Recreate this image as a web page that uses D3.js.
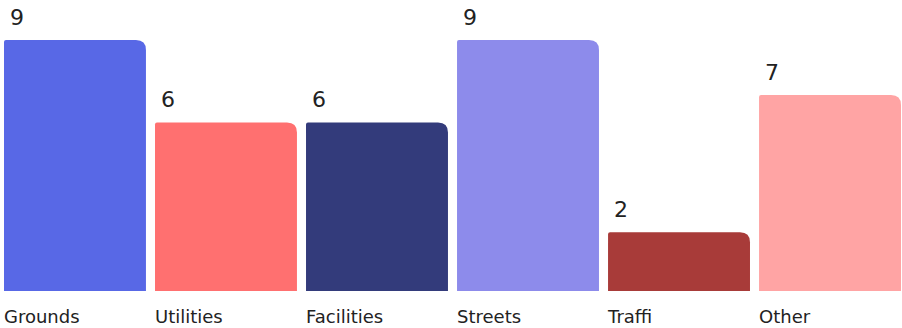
<!DOCTYPE html>
<html>
<head>
<meta charset="utf-8">
<script src="https://cdn.jsdelivr.net/npm/d3@7"></script>
<style>
  html, body { margin: 0; padding: 0; background: #fff; }
  svg { display: block; }
  text { font-family: "DejaVu Sans", sans-serif; fill: #222; }
</style>
</head>
<body>
<svg id="chart" width="902" height="328"></svg>
<script>
// Simple bar chart: one bar per category, value label above, category below.
var categories = ['Grounds', 'Utilities', 'Facilities', 'Streets', 'Traffi', 'Other'];
var values = [9, 6, 6, 9, 2, 7];
var colors = ['#5868E6', '#FF7070', '#333B7B', '#8D8BEB', '#A83B39', '#FFA4A4'];

(function () {
    var W = 902, H = 328;
    var svg = d3.select('#chart');
    var m = { left: 4, right: 1, top: 40, bottom: 37 };
    var baseY = H - m.bottom;

    var x = d3.scaleBand().domain(categories)
        .range([m.left, W - m.right]).paddingInner(0.06).paddingOuter(0);
    var y = d3.scaleLinear().domain([-0.14, 9]).range([baseY, m.top]);

    // bar path: small top-left radius, bigger top-right, square bottom
    function barPath(x0, y0, w, h) {
        var rl = 2, rr = 10;
        return 'M' + x0 + ',' + (y0 + h) +
            'V' + (y0 + rl) +
            'Q' + x0 + ',' + y0 + ' ' + (x0 + rl) + ',' + y0 +
            'H' + (x0 + w - rr) +
            'Q' + (x0 + w) + ',' + y0 + ' ' + (x0 + w) + ',' + (y0 + rr) +
            'V' + (y0 + h) + 'Z';
    }

    var data = categories.map(function (c, i) { return { c: c, v: values[i], col: colors[i] }; });

    svg.selectAll('path.bar').data(data).enter().append('path')
        .attr('class', 'bar')
        .attr('fill', function (d) { return d.col; })
        .attr('d', function (d) {
            var top = y(d.v);
            return barPath(x(d.c), top, x.bandwidth(), baseY - top);
        });

    svg.selectAll('text.val').data(data).enter().append('text')
        .attr('class', 'val')
        .attr('x', function (d) { return x(d.c) + 6; })
        .attr('y', function (d) { return y(d.v) - 15; })
        .attr('font-size', 22)
        .text(function (d) { return d.v; });

    svg.selectAll('text.cat').data(data).enter().append('text')
        .attr('class', 'cat')
        .attr('x', function (d) { return x(d.c); })
        .attr('y', H - 5)
        .attr('font-size', 18)
        .text(function (d) { return d.c; });
})();
</script>
</body>
</html>
